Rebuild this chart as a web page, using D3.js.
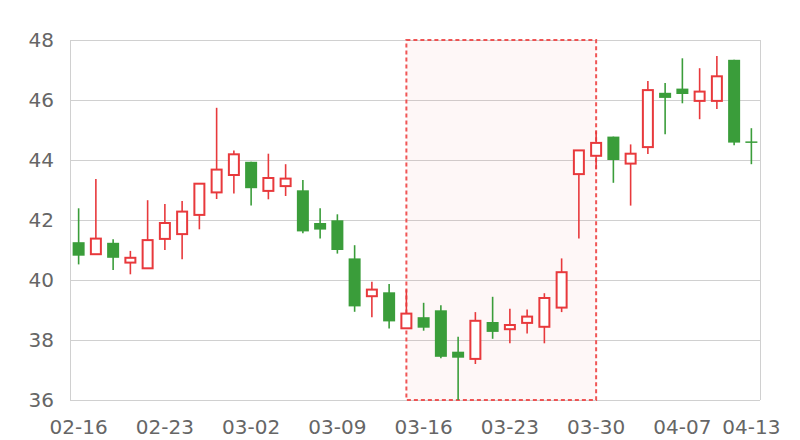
<!DOCTYPE html>
<html>
<head>
<meta charset="utf-8">
<script src="https://cdn.jsdelivr.net/npm/d3@7/dist/d3.min.js"></script>
<style>
  html, body { margin: 0; padding: 0; background: #fff; }
  svg { display: block; }
  text { font-family: "DejaVu Sans", sans-serif; }
</style>
</head>
<body>
<svg id="chart" width="800" height="440"></svg>
<script>
const dates = ["02-16","02-17","02-18","02-19","02-20",
  "02-23","02-24","02-25","02-26","02-27",
  "03-02","03-03","03-04","03-05","03-06",
  "03-09","03-10","03-11","03-12","03-13",
  "03-16","03-17","03-18","03-19","03-20",
  "03-23","03-24","03-25","03-26","03-27",
  "03-30","03-31","04-01","04-02","04-03",
  "04-07","04-08","04-09","04-10","04-13"];
const openVals  = [41.26, 40.86, 41.24, 40.58, 40.39, 41.37, 41.53, 42.17, 42.92, 43.50,
  43.94, 42.97, 43.13, 42.99, 41.90, 41.99, 40.72, 39.46, 39.59, 38.39,
  38.76, 38.99, 37.61, 37.37, 38.60, 38.36, 38.57, 38.44, 39.08, 43.53,
  44.14, 44.78, 43.88, 44.43, 46.24, 46.38, 45.97, 45.97, 47.34, 44.62];
const closeVals = [40.81, 41.38, 40.74, 40.74, 41.33, 41.90, 42.28, 43.21, 43.68, 44.19,
  43.06, 43.40, 43.38, 41.62, 41.68, 41.00, 39.12, 39.68, 38.62, 38.88,
  38.41, 37.44, 37.41, 38.64, 38.27, 38.50, 38.78, 39.40, 40.26, 44.32,
  44.57, 44.00, 44.21, 46.33, 46.07, 46.20, 46.28, 46.79, 44.58, 44.58];
const lowVals   = [40.52, 40.86, 40.33, 40.19, 40.39, 41.00, 40.69, 41.69, 42.70, 42.88,
  42.48, 42.69, 42.80, 41.56, 41.38, 40.88, 38.94, 38.76, 38.38, 38.39,
  38.31, 37.39, 36.00, 37.20, 38.04, 37.89, 38.22, 37.89, 38.93, 41.38,
  43.69, 43.24, 42.48, 44.20, 44.86, 45.89, 45.36, 45.70, 44.49, 43.86];
const highVals  = [42.39, 43.37, 41.36, 40.97, 42.66, 42.53, 42.63, 43.21, 45.74, 44.32,
  43.94, 44.21, 43.86, 43.33, 42.39, 42.19, 41.16, 39.94, 39.87, 39.68,
  39.24, 39.16, 38.11, 38.93, 39.44, 39.04, 39.02, 39.56, 40.72, 44.32,
  44.96, 44.78, 44.52, 46.63, 46.57, 47.39, 47.06, 47.47, 47.34, 45.06];
const xTickLabels = ["02-16","02-23","03-02","03-09","03-16","03-23","03-30","04-07","04-13"];
const yTickValues = [36, 38, 40, 42, 44, 46, 48];
const markRange = ["03-13", "03-30"];

const upColor = "#e8393c", downColor = "#3a9d3a";
const margin = {left: 70, right: 40, top: 40, bottom: 40};
const W = 800, H = 440;
const svg = d3.select("#chart");

const x = d3.scaleBand().domain(dates).range([margin.left, W - margin.right]).padding(0);
const y = d3.scaleLinear().domain([36, 48]).range([H - margin.bottom, margin.top]);
const cx = d => x(d) + x.bandwidth() / 2;

// grid
const grid = svg.append("g");
grid.selectAll("line.h").data(yTickValues).join("line")
  .attr("x1", margin.left).attr("x2", W - margin.right)
  .attr("y1", d => Math.round(y(d)) + 0.5).attr("y2", d => Math.round(y(d)) + 0.5)
  .attr("stroke", "#d0d0d0").attr("stroke-width", 1);
[margin.left, W - margin.right].forEach(px => {
  grid.append("line").attr("x1", px + 0.5).attr("x2", px + 0.5)
    .attr("y1", y(48)).attr("y2", y(36)).attr("stroke", "#d0d0d0");
});

// mark area
svg.append("rect")
  .attr("x", cx(markRange[0])).attr("width", cx(markRange[1]) - cx(markRange[0]))
  .attr("y", y(48)).attr("height", y(36) - y(48))
  .attr("fill", "rgba(240,60,60,0.045)")
  .attr("stroke", "#ee4444").attr("stroke-opacity", 0.9)
  .attr("stroke-width", 2).attr("stroke-dasharray", "4,3");

// candles
const data = dates.map((d, i) => ({d, o: openVals[i], c: closeVals[i], l: lowVals[i], h: highVals[i]}));
const bw = 12;
const g = svg.append("g");
const cs = g.selectAll("g.c").data(data).join("g");
cs.append("line")
  .attr("x1", d => cx(d.d)).attr("x2", d => cx(d.d))
  .attr("y1", d => y(d.h)).attr("y2", d => y(d.l))
  .attr("stroke", d => d.c >= d.o ? upColor : downColor)
  .attr("stroke-width", 1.6);
cs.append("rect")
  .attr("x", d => cx(d.d) - (d.c >= d.o ? (bw - 2) / 2 : bw / 2))
  .attr("width", d => d.c >= d.o ? bw - 2 : bw)
  .attr("y", d => d.c >= d.o ? y(d.c) : y(d.o))
  .attr("height", d => Math.max(1.5, Math.abs(y(d.o) - y(d.c))))
  .attr("fill", d => d.c >= d.o ? "#fff" : downColor)
  .attr("stroke", d => d.c >= d.o ? upColor : "none")
  .attr("stroke-width", 2);

// axes labels
svg.append("g").selectAll("text").data(yTickValues).join("text")
  .attr("x", 54).attr("y", d => y(d)).attr("dy", "0.36em")
  .attr("text-anchor", "end").attr("font-size", 20).attr("fill", "#666")
  .text(d => d);
svg.append("g").selectAll("text").data(xTickLabels).join("text")
  .attr("x", d => cx(d)).attr("y", 434)
  .attr("text-anchor", "middle").attr("font-size", 20).attr("fill", "#666")
  .text(d => d);
</script>
</body>
</html>
